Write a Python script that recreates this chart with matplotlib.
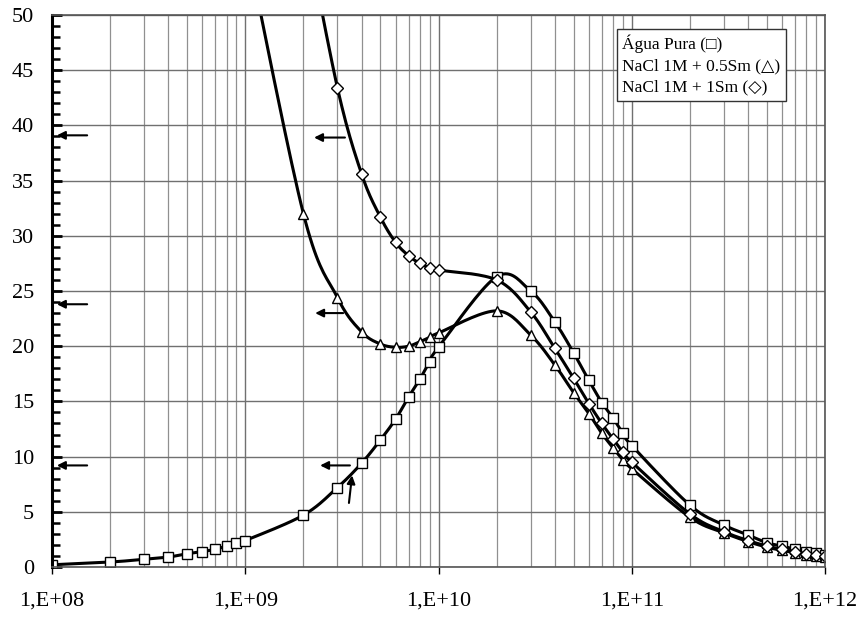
import numpy as np
import matplotlib.pyplot as plt
from matplotlib.ticker import MultipleLocator, LogLocator, NullFormatter, FixedLocator

plt.rcParams['font.family'] = ['Liberation Serif', 'DejaVu Sans']

# frequencias (Hz)
f_agua = [1e8, 2e8, 3e8, 4e8, 5e8, 6e8, 7e8, 8e8, 9e8,
          1e9, 2e9, 3e9, 4e9, 5e9, 6e9, 7e9, 8e9, 9e9,
          1e10, 2e10, 3e10, 4e10, 5e10, 6e10, 7e10, 8e10, 9e10,
          1e11, 2e11, 3e11, 4e11, 5e11, 6e11, 7e11, 8e11, 9e11, 1e12]
y_agua = [0.2, 0.45, 0.7, 0.9, 1.2, 1.4, 1.6, 1.9, 2.2,
          2.4, 4.7, 7.2, 9.4, 11.5, 13.4, 15.4, 17.0, 18.6,
          19.9, 26.3, 25.0, 22.2, 19.4, 16.9, 14.9, 13.5, 12.1,
          11.0, 5.6, 3.8, 2.9, 2.2, 1.9, 1.6, 1.4, 1.3, 1.1]

f_nacl = [1e9, 2e9, 3e9, 4e9, 5e9, 6e9, 7e9, 8e9, 9e9,
          1e10, 2e10, 3e10, 4e10, 5e10, 6e10, 7e10, 8e10, 9e10,
          1e11, 2e11, 3e11, 4e11, 5e11, 6e11, 7e11, 8e11, 9e11, 1e12]
y_05 = [57.0, 32.0, 24.4, 21.3, 20.2, 19.9, 20.0, 20.4, 20.8,
        21.2, 23.2, 21.0, 18.3, 15.8, 13.9, 12.1, 10.8, 9.7,
        8.9, 4.5, 3.1, 2.3, 1.8, 1.5, 1.3, 1.1, 1.0, 0.9]

f_1 = f_nacl[1:]
y_1 = [59.0, 43.4, 35.6, 31.7, 29.4, 28.2, 27.5, 27.1,
       26.9, 26.0, 23.1, 19.8, 17.1, 14.8, 13.0, 11.6, 10.4,
       9.5, 4.8, 3.2, 2.4, 1.9, 1.6, 1.4, 1.2, 1.1, 1.0]

# setas: (x inicio, y inicio, x ponta, y ponta)
setas = [(1.52e8, 39.1, 1.06e8, 39.1),
         (1.52e8, 23.8, 1.06e8, 23.8),
         (1.52e8, 9.2, 1.06e8, 9.2),
         (3.28e9, 38.9, 2.27e9, 38.9),
         (3.21e9, 23.0, 2.30e9, 23.0),
         (3.48e9, 9.2, 2.44e9, 9.2),
         (3.44e9, 5.8, 3.57e9, 8.3)]


def suave(x, y, n=20):
    # linha suavizada tipo Excel (bezier pelos pontos, em log x)
    lx = np.log10(x)
    y = np.asarray(y, float)
    sx = [lx[0]]
    sy = [y[0]]
    for i in range(len(lx) - 1):
        xa, xb = lx[max(i - 1, 0)], lx[min(i + 2, len(lx) - 1)]
        ya, yb = y[max(i - 1, 0)], y[min(i + 2, len(y) - 1)]
        c1 = (lx[i] + (lx[i + 1] - xa) / 6, y[i] + (y[i + 1] - ya) / 6)
        c2 = (lx[i + 1] - (xb - lx[i]) / 6, y[i + 1] - (yb - y[i]) / 6)
        t = np.linspace(0, 1, n)[1:]
        sx.extend((1-t)**3*lx[i] + 3*(1-t)**2*t*c1[0] + 3*(1-t)*t**2*c2[0] + t**3*lx[i+1])
        sy.extend((1-t)**3*y[i] + 3*(1-t)**2*t*c1[1] + 3*(1-t)*t**2*c2[1] + t**3*y[i+1])
    return 10**np.array(sx), np.array(sy)


fig = plt.figure(figsize=(8.64, 6.17), dpi=100)
ax = fig.add_axes([52/864, 50/617, 773/864, 552/617])

mk = dict(ls='none', mfc='white', mec='black', mew=1.0, ms=7.5)
for x, y, m in [(f_agua, y_agua, 's'), (f_nacl, y_05, '^'), (f_1, y_1, 'D')]:
    xs, ys = suave(x, y)
    ax.plot(xs, ys, color='black', lw=2.2)
    ax.plot(x, y, marker=m, **dict(mk, ms=6.5 if m == 'D' else 7.5))

for x0, y0, x1, y1 in setas:
    ax.annotate('', xy=(x1, y1), xytext=(x0, y0),
                arrowprops=dict(arrowstyle='-|>', color='black', lw=1.5,
                                mutation_scale=12, shrinkA=0, shrinkB=0))

ax.set_xscale('log')
ax.set_xlim(1e8, 1e12)
ax.set_ylim(0, 50)

ax.xaxis.set_major_locator(FixedLocator([1e8, 1e9, 1e10, 1e11, 1e12]))
ax.set_xticklabels(['1,E+08', '1,E+09', '1,E+10', '1,E+11', '1,E+12'])
ax.xaxis.set_minor_locator(LogLocator(base=10, subs=np.arange(2, 10), numticks=20))
ax.xaxis.set_minor_formatter(NullFormatter())
ax.yaxis.set_major_locator(MultipleLocator(5))
ax.yaxis.set_minor_locator(MultipleLocator(1))

ax.grid(True, which='major', axis='both', color='#707070', lw=1.0)
ax.grid(True, which='minor', axis='x', color='#909090', lw=0.9)
ax.set_axisbelow(True)

ax.tick_params(axis='x', which='major', length=5, width=1, pad=13, labelsize=16)
ax.tick_params(axis='x', which='minor', length=0)
ax.tick_params(axis='y', which='major', direction='in', length=7, width=2, pad=13, labelsize=16)
ax.tick_params(axis='y', which='minor', direction='in', length=6, width=1.8)

ax.spines['left'].set_linewidth(2.2)
for s in ['top', 'right', 'bottom']:
    ax.spines[s].set_color('#555555')
    ax.spines[s].set_linewidth(1.2)

ax.text(0.738, 0.965, 'Água Pura (\u25a1)\nNaCl 1M + 0.5Sm (\u25b3)\nNaCl 1M + 1Sm (\u25c7)',
        transform=ax.transAxes, ha='left', va='top', fontsize=12.5, linespacing=1.45,
        bbox=dict(boxstyle='square,pad=0.3', fc='white', ec='#333333', lw=1.0))

fig.savefig('out.png', dpi=100)
